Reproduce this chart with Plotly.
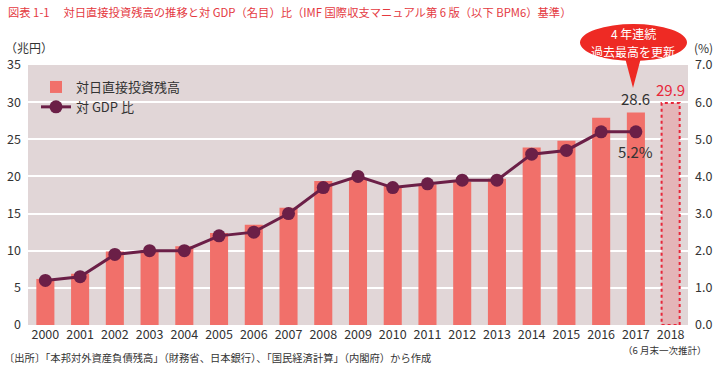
import plotly.graph_objects as go

years = list(range(2000, 2019))
fdi_stock = [6.2, 6.9, 9.9, 10.1, 10.6, 12.4, 13.5, 15.8, 19.4, 19.8, 18.7, 18.9, 19.3, 19.7, 23.9, 24.8, 27.9, 28.6]
fdi_2018 = 29.9
gdp_ratio = [1.2, 1.3, 1.9, 2.0, 2.0, 2.4, 2.5, 3.0, 3.7, 4.0, 3.7, 3.8, 3.9, 3.9, 4.6, 4.7, 5.2, 5.2]
left_ticks = [0, 5, 10, 15, 20, 25, 30, 35]
right_ticks = [0, 1, 2, 3, 4, 5, 6, 7]

FONT = "Noto Sans CJK JP"
TXT = "#333333"
BAR = "#f1706a"
LINE = "#6b1f47"
RED = "#e8273a"
BW = 0.52

L, R, T, B = 28, 34, 65, 45
W, H = 722, 370
PW, PH = W - L - R, H - T - B


def px(x):
    return (x - L) / PW


def py(y):
    return (H - B - y) / PH


fig = go.Figure()
fig.add_trace(go.Bar(
    x=years[:len(fdi_stock)], y=fdi_stock, name="対日直接投資残高",
    marker=dict(color=BAR, line=dict(width=0)), width=BW,
))
fig.add_trace(go.Bar(
    x=[years[-1]], y=[fdi_2018], showlegend=False,
    marker=dict(color="#e4b5b8", line=dict(width=0)), width=BW,
))
fig.add_trace(go.Scatter(
    x=years[:len(gdp_ratio)], y=gdp_ratio, name="対 GDP 比", yaxis="y2",
    mode="lines+markers", line=dict(color=LINE, width=3),
    marker=dict(color=LINE, size=13),
))

# dashed outline for the 2018 preliminary estimate
fig.add_shape(type="rect", xref="x", yref="y",
              x0=years[-1] - BW / 2, x1=years[-1] + BW / 2, y0=0, y1=fdi_2018,
              line=dict(color=RED, width=2, dash="dot"), fillcolor="rgba(0,0,0,0)")

fig.update_layout(
    width=W, height=H,
    margin=dict(l=L, r=R, t=T, b=B, autoexpand=False),
    paper_bgcolor="white", plot_bgcolor="#e1d6d7",
    font=dict(family=FONT, color=TXT, size=12),
    bargap=0.48,
    showlegend=True,
    legend=dict(x=px(36), y=py(72), xanchor="left", yanchor="top",
                bgcolor="rgba(0,0,0,0)", font=dict(size=13, color=TXT),
                itemwidth=30),
    xaxis=dict(range=[1999.5, 2018.5], tickmode="array", tickvals=years,
               ticktext=[str(y) for y in years], showgrid=False, zeroline=False,
               ticks="", tickfont=dict(size=12.5, color=TXT), showline=False),
    yaxis=dict(range=[0, 35], tickmode="array", tickvals=left_ticks,
               showgrid=True, gridcolor="white", gridwidth=2, zeroline=False,
               ticks="", tickfont=dict(size=12.5, color=TXT), ticklabelstandoff=6),
    yaxis2=dict(range=[0, 7], overlaying="y", side="right", tickmode="array",
                tickvals=right_ticks, ticktext=[f"{v:.1f}" for v in right_ticks],
                showgrid=False, zeroline=False, ticks="",
                tickfont=dict(size=12.5, color=TXT), ticklabelstandoff=6),
)

ann = []
ann.append(dict(xref="paper", yref="paper", x=px(6), y=py(12), xanchor="left", yanchor="middle",
                text="図表 1-1　 対日直接投資残高の推移と対 GDP（名目）比（IMF 国際収支マニュアル第 6 版（以下 BPM6）基準）",
                font=dict(size=11.3, color="#e4393f"), showarrow=False))
ann.append(dict(xref="paper", yref="paper", x=px(3), y=py(47), xanchor="left", yanchor="middle",
                text="（兆円）", font=dict(size=12, color=TXT), showarrow=False))
ann.append(dict(xref="paper", yref="paper", x=px(692), y=py(47), xanchor="left", yanchor="middle",
                text="(%)", font=dict(size=12, color=TXT), showarrow=False))
ann.append(dict(xref="x", yref="y", x=years[len(fdi_stock) - 1], y=fdi_stock[-1],
                yanchor="bottom", yshift=2, text=f"{fdi_stock[-1]:.1f}",
                font=dict(size=15, color=TXT), showarrow=False))
ann.append(dict(xref="x", yref="y", x=years[-1], y=fdi_2018,
                yanchor="bottom", yshift=1, text=f"{fdi_2018:.1f}",
                font=dict(size=15, color=RED), showarrow=False))
ann.append(dict(xref="x", yref="y2", x=years[len(gdp_ratio) - 1], y=gdp_ratio[-1],
                yanchor="top", yshift=-7, text=f"{gdp_ratio[-1]:.1f}%",
                font=dict(size=15, color=TXT), showarrow=False))
ann.append(dict(xref="paper", yref="paper", x=px(633), y=py(33.5), xanchor="center", yanchor="middle",
                text="4 年連続", font=dict(size=12, color="white"), showarrow=False))
ann.append(dict(xref="paper", yref="paper", x=px(633), y=py(51.5), xanchor="center", yanchor="middle",
                text="過去最高を更新", font=dict(size=12, color="white"), showarrow=False))
ann.append(dict(xref="paper", yref="paper", x=px(664), y=py(350), xanchor="center", yanchor="middle",
                text="（6 月末一次推計）", font=dict(size=9.5, color=TXT), showarrow=False))
ann.append(dict(xref="paper", yref="paper", x=px(2), y=py(357), xanchor="left", yanchor="middle",
                text="〔出所〕「本邦対外資産負債残高」（財務省、日本銀行）、「国民経済計算」（内閣府）から作成",
                font=dict(size=10.3, color=TXT), showarrow=False))
fig.update_layout(annotations=ann)

# speech bubble
fig.add_shape(type="path", xref="paper", yref="paper",
              path=f"M {px(624)} {py(54)} L {px(642)} {py(54)} L {px(633)} {py(88)} Z",
              fillcolor="#ee2a24", line=dict(width=0), layer="below")
fig.add_shape(type="circle", xref="paper", yref="paper",
              x0=px(580), x1=px(687), y0=py(61), y1=py(24),
              fillcolor="#ee2a24", line=dict(width=0), layer="below")

fig.write_html("out.html", config={"displayModeBar": False},
               post_script="document.body.style.margin='0';document.body.style.padding='0';")
